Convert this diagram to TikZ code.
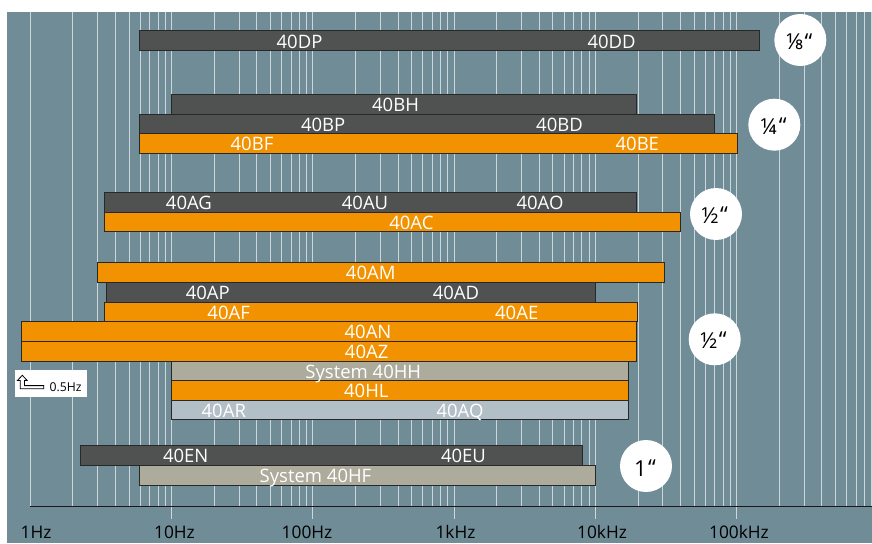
\documentclass[tikz,border=0pt]{standalone}
\usepackage{fontspec}
\setmainfont{Open Sans}
\definecolor{bgblue}{RGB}{111,140,151}
\definecolor{gridc}{RGB}{205,214,219}
\definecolor{darkbarc}{RGB}{80,82,81}
\definecolor{orangec}{RGB}{243,146,0}
\definecolor{beigec}{RGB}{172,171,156}
\definecolor{paleblue}{RGB}{178,191,199}
\definecolor{edgec}{RGB}{40,40,40}
\tikzset{
 gridln/.style={draw=gridc, line width=0.9pt},
 barbase/.style={draw=edgec, line width=1pt},
 dbar/.style={barbase, fill=darkbarc},
 obar/.style={barbase, fill=orangec},
 bbar/.style={barbase, fill=beigec},
 pbar/.style={barbase, fill=paleblue},
 lbl/.style={text=white, font=\fontsize{18.5}{20}\selectfont, inner sep=0pt, anchor=base},
 axlbl/.style={text=black, font=\fontsize{17.3}{18}\selectfont, inner sep=0pt, anchor=base},
 sizecirc/.style={circle, fill=white, minimum size=52pt, inner sep=0pt},
 sizelbl/.style={text=black, font=\fontsize{22}{23}\selectfont, inner sep=0pt, anchor=base},
}
\newcommand\quo{\kern1.5pt\raisebox{1pt}{“}}
\begin{document}
\begin{tikzpicture}[x=1pt,y=-1pt]
\useasboundingbox (0,0) rectangle (872,543);
% background
\fill[bgblue] (7,12) rectangle (872,543);
% log grid
\foreach \d in {0,...,5}{
  \foreach \m in {1,...,9}{
    \pgfmathsetmacro\xx{30.4+141.26*(\d+log10(\m))}
    \draw[gridln] (\xx,12) -- (\xx,506.5);
  }
}
\foreach \d in {1,...,5}{
  \pgfmathsetmacro\xx{30.4+141.26*\d}
  \draw[gridln] (\xx,506.5) -- (\xx,519);
}
% axis
\draw[black!90, line width=1.3pt] (30.4,506.5) -- (872,506.5);
\node[axlbl] (f1) at (36,538.3) {1Hz};
\node[axlbl] (f10) at (174.5,538.3) {10Hz};
\node[axlbl] (f100) at (307,538.3) {100Hz};
\node[axlbl] (f1k) at (455.5,538.3) {1kHz};
\node[axlbl] (f10k) at (602,538.3) {10kHz};
\node[axlbl] (f100k) at (739,538.3) {100kHz};

% 1/8 inch group
\path[dbar] (139.3,30.5) rectangle (759.7,50.7);
\node[lbl] (dp) at (299.5,48.3) {40DP};
\node[lbl] (dd) at (611.6,48.3) {40DD};

% 1/4 inch group
\path[dbar] (171.3,94) rectangle (636.7,114);
\path[dbar] (139.3,114) rectangle (714.7,133.7);
\path[obar] (139.3,133.7) rectangle (737,153.3);
\node[lbl] (bh) at (395.5,111.6) {40BH};
\node[lbl] (bp) at (323.2,131.3) {40BP};
\node[lbl] (bd) at (559.5,131.3) {40BD};
\node[lbl] (bf) at (252,150.9) {40BF};
\node[lbl] (be) at (637.3,150.9) {40BE};

% 1/2 inch group (a)
\path[dbar] (104.3,192.3) rectangle (636.7,212);
\path[obar] (104.3,212) rectangle (680.7,231.7);
\node[lbl] (ag) at (188.9,209.6) {40AG};
\node[lbl] (au) at (365,209.6) {40AU};
\node[lbl] (ao) at (540,209.6) {40AO};
\node[lbl] (ac) at (411.4,229.3) {40AC};

% 1/2 inch group (b)
\path[obar] (97.3,262.5) rectangle (664.3,282.3);
\path[dbar] (106.3,282.3) rectangle (595.3,302);
\path[obar] (104.3,302) rectangle (637,321.7);
\path[obar] (21,321.7) rectangle (636.7,341.3);
\path[obar] (21,341.3) rectangle (636.7,361);
\path[bbar] (171.3,361) rectangle (628.3,380.5);
\path[obar] (171.3,380.5) rectangle (628.3,400);
\path[pbar] (171.3,400) rectangle (628.3,419.5);
\node[lbl] (am) at (370.7,279.9) {40AM};
\node[lbl] (ap) at (207.8,299.6) {40AP};
\node[lbl] (ad) at (456,299.6) {40AD};
\node[lbl] (af) at (228.7,319.3) {40AF};
\node[lbl] (ae) at (516.7,319.3) {40AE};
\node[lbl] (an) at (368,338.9) {40AN};
\node[lbl] (az) at (366.7,358.6) {40AZ};
\node[lbl] (hh) at (363.3,378.1) {System 40HH};
\node[lbl] (hl) at (366.3,397.6) {40HL};
\node[lbl] (ar) at (223.8,417.1) {40AR};
\node[lbl] (aq) at (460,417.1) {40AQ};

% 1 inch group
\path[dbar] (80,445.3) rectangle (582.3,465.3);
\path[bbar] (139.3,465.3) rectangle (595.7,485);
\node[lbl] (en) at (185.7,462.9) {40EN};
\node[lbl] (eu) at (463.5,462.9) {40EU};
\node[lbl] (hf) at (315.5,482.6) {System 40HF};

% 0.5 Hz note
\node[fill=white, minimum width=72.6pt, minimum height=26.7pt, inner sep=0pt] (notebox) at (51,383.65) {};
\draw[black, line width=0.8pt, line join=miter] (22.3,375.3) -- (27.2,380.5) -- (24.4,380.5) -- (24.4,385.6) -- (43.8,385.6) -- (43.8,388.8) -- (20.2,388.8) -- (20.2,380.5) -- (17.4,380.5) -- cycle;
\node[text=black, font=\fontsize{12.2}{13}\selectfont, inner sep=0pt, anchor=base] (halfhz) at (65.5,391.3) {0.5Hz};

% size circles
\node[sizecirc] (c8) at (800.3,40) {};
\node[sizelbl] (t8) at (799.2,50) {⅛\quo};
\node[sizecirc] (c4) at (774.3,124.7) {};
\node[sizelbl] (t4) at (773.5,134.3) {¼\quo};
\node[sizecirc] (c2a) at (716,214) {};
\node[sizelbl] (t2a) at (714.7,223.3) {½\quo};
\node[sizecirc] (c2b) at (714.7,339.3) {};
\node[sizelbl] (t2b) at (713.5,348.6) {½\quo};
\node[sizecirc] (c1) at (646,466) {};
\node[sizelbl] (t1) at (645,476) {1\quo};
\end{tikzpicture}
\end{document}
